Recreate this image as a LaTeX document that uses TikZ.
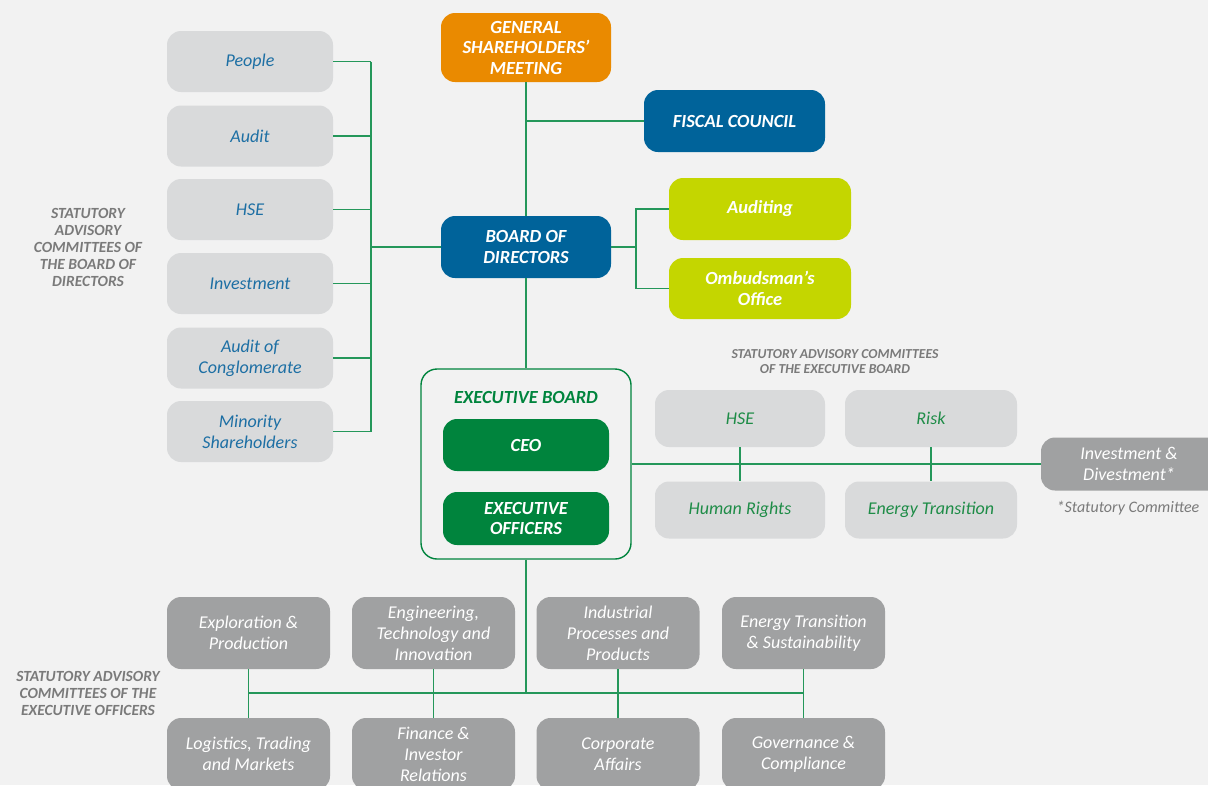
\documentclass[tikz,border=0pt]{standalone}
\usepackage{fontspec}
\setmainfont{Carlito}
\definecolor{bg}{HTML}{F2F2F2}
\definecolor{orangeb}{HTML}{EA8A00}
\definecolor{blueb}{HTML}{00639A}
\definecolor{limeb}{HTML}{C4D600}
\definecolor{greenb}{HTML}{00843D}
\definecolor{lgrayb}{HTML}{D9DADB}
\definecolor{dgrayb}{HTML}{A0A1A2}
\definecolor{bluetxt}{HTML}{1D6FA4}
\definecolor{greentxt}{HTML}{1E8C47}
\definecolor{labgray}{HTML}{7A7A7A}
\definecolor{conncol}{HTML}{24975A}
\tikzset{
  box/.style={rounded corners=14pt, inner sep=0pt, align=center,
    font=\fontsize{18}{21}\selectfont\itshape},
  titlebox/.style={box, text=white, font=\fontsize{18.5}{20.5}\selectfont\bfseries\itshape},
  lcomm/.style={box, fill=lgrayb, text=bluetxt, minimum width=166pt, minimum height=61pt},
  ecomm/.style={box, fill=lgrayb, text=greentxt, minimum width=170pt, minimum height=57pt},
  ocomm/.style={box, fill=dgrayb, text=white, minimum width=163pt, minimum height=72pt},
  conn/.style={draw=conncol, line width=1.6pt},
  lab/.style={align=center, text=labgray, font=\fontsize{15.5}{17}\selectfont\bfseries\itshape},
}
\begin{document}
\begin{tikzpicture}[x=1pt,y=-1pt]
\useasboundingbox (0,0) rectangle (1208,785);
\fill[bg] (0,0) rectangle (1208,785);

% left committees
\node[lcomm] (people) at (250,61.5) {People};
\node[lcomm] (audit) at (250,136) {Audit};
\node[lcomm] (hse) at (250,209.5) {HSE};
\node[lcomm] (invest) at (250,283.5) {Investment};
\node[lcomm] (conglo) at (250,358) {Audit of\\Conglomerate};
\node[lcomm] (minor) at (250,431.5) {Minority\\Shareholders};
\node[lab] (lab1) at (88,247) {STATUTORY\\ADVISORY\\COMMITTEES OF\\THE BOARD OF\\DIRECTORS};

% main chain
\node[titlebox, fill=orangeb, minimum width=170pt, minimum height=69pt] (gsm) at (526,47.5) {GENERAL\\SHAREHOLDERS'\\MEETING};
\node[titlebox, fill=blueb, minimum width=181pt, minimum height=62pt] (fiscal) at (734.5,121) {FISCAL COUNCIL};
\node[titlebox, fill=blueb, minimum width=170pt, minimum height=62pt] (board) at (526,247) {BOARD OF\\DIRECTORS};
\node[titlebox, fill=limeb, minimum width=182pt, minimum height=62pt] (auditing) at (760,209) {Auditing};
\node[titlebox, fill=limeb, minimum width=182pt, minimum height=61pt] (ombud) at (760,288.5) {Ombudsman's\\Office};

% executive board
\node[draw=greenb, line width=1.4pt, fill=bg, rounded corners=16pt, minimum width=210pt, minimum height=190pt, inner sep=0pt] (exb) at (526,464) {};
\node[text=greenb, font=\fontsize{18.5}{20}\selectfont\bfseries\itshape] (exbt) at (526,397) {EXECUTIVE BOARD};
\node[titlebox, fill=greenb, minimum width=166pt, minimum height=52pt] (ceo) at (526,445) {CEO};
\node[titlebox, fill=greenb, minimum width=166pt, minimum height=53pt] (eo) at (526,518.5) {EXECUTIVE\\OFFICERS};

% executive board committees
\node[align=center, text=labgray, font=\fontsize{13.7}{15}\selectfont\bfseries\itshape] (lab2) at (835,361.5) {STATUTORY ADVISORY COMMITTEES\\OF THE EXECUTIVE BOARD};
\node[ecomm] (hse2) at (740,418.5) {HSE};
\node[ecomm] (hr) at (740,510) {Human Rights};
\node[ecomm, minimum width=172pt] (risk) at (931,418.5) {Risk};
\node[ecomm, minimum width=172pt] (et) at (931,510) {Energy Transition};
\node[box, fill=dgrayb, text=white, minimum width=190pt, minimum height=53pt] (invdiv) at (1136,464) {};
\node[align=center, text=white, font=\fontsize{18}{21}\selectfont\itshape] (invdivt) at (1129,464) {Investment \&\\Divestment*};
\node[text=labgray, font=\fontsize{16}{18}\selectfont\itshape] (note) at (1128,508) {*Statutory Committee};

% executive officers committees
\node[lab] (lab3) at (88,693) {STATUTORY ADVISORY\\COMMITTEES OF THE\\EXECUTIVE OFFICERS};
\node[ocomm] (ep) at (248.5,633) {Exploration \&\\Production};
\node[ocomm] (eti) at (433.5,633) {Engineering,\\Technology and\\Innovation};
\node[ocomm] (ipp) at (618,633) {Industrial\\Processes and\\Products};
\node[ocomm] (ets) at (803.5,633) {Energy Transition\\\& Sustainability};
\node[ocomm] (ltm) at (248.5,754) {Logistics, Trading\\and Markets};
\node[ocomm] (fir) at (433.5,754) {Finance \&\\Investor\\Relations};
\node[ocomm] (ca) at (618,754) {Corporate\\Affairs};
\node[ocomm] (gc) at (803.5,754) {Governance \&\\Compliance};

% connectors: left committees
\coordinate (lspine) at (371,0);
\foreach \n in {people,audit,hse,invest,conglo,minor}
  \draw[conn] (\n.east) -- (\n.east -| lspine);
\draw[conn] (people.east -| lspine) -- (minor.east -| lspine);
\draw[conn] (board.west) -- (board.west -| lspine);

% main chain connectors
\draw[conn] (gsm.south) -- (board.north);
\draw[conn] (fiscal.west) -- (fiscal.west -| gsm.south);
\coordinate (bj) at (636,247);
\draw[conn] (board.east) -- (bj);
\draw[conn] (auditing.west) -| (bj) |- (ombud.west);
\draw[conn] (board.south) -- (exb.north);

% executive board connectors
\draw[conn] (exb.east) -- (invdiv.west);
\draw[conn] (hse2.south) -- (hr.north);
\draw[conn] (risk.south) -- (et.north);

% executive officers connectors
\coordinate (bj2) at (526,693);
\draw[conn] (exb.south) -- (bj2);
\draw[conn] (ep.south |- bj2) -- (ets.south |- bj2);
\draw[conn] (ep.south) -- (ltm.north);
\draw[conn] (eti.south) -- (fir.north);
\draw[conn] (ipp.south) -- (ca.north);
\draw[conn] (ets.south) -- (gc.north);
\end{tikzpicture}
\end{document}
